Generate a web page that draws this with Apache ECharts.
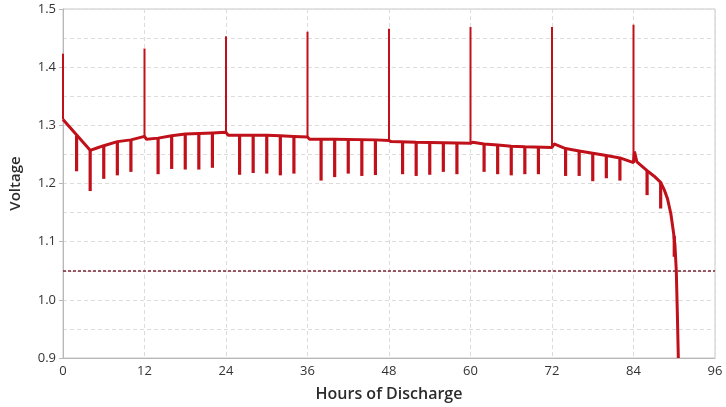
<!DOCTYPE html>
<html>
<head>
<meta charset="utf-8">
<script src="https://cdn.jsdelivr.net/npm/echarts@6/dist/echarts.min.js"></script>
<style>
html,body{margin:0;padding:0;background:#fff;}
#chart{width:726px;height:407px;}
</style>
</head>
<body>
<div id="chart"></div>
<script>
// Baseline voltage curve (hours, volts)
var baseHours = [0, 4, 5, 6, 8, 10, 12, 12.3, 14, 16, 18, 20, 22, 24, 24.3, 30, 32, 34, 36, 36.3, 40, 46, 48, 48.3, 52, 56, 60, 60.3, 62, 64, 66, 68, 72, 72.3, 74, 76, 78, 80, 82, 84, 84.15, 84.5, 86, 87, 88, 88.5, 89, 89.5, 89.9, 90.1, 90.3, 90.45, 90.6];
var baseVolts = [1.310, 1.257, 1.261, 1.265, 1.272, 1.275, 1.281, 1.276, 1.278, 1.282, 1.285, 1.286, 1.287, 1.288, 1.283, 1.283, 1.282, 1.281, 1.280, 1.276, 1.276, 1.275, 1.274, 1.272, 1.271, 1.270, 1.269, 1.271, 1.268, 1.266, 1.264, 1.263, 1.262, 1.268, 1.260, 1.256, 1.252, 1.248, 1.244, 1.236, 1.255, 1.237, 1.222, 1.213, 1.202, 1.190, 1.174, 1.148, 1.115, 1.095, 1.050, 0.980, 0.900];

// Load pulses (downward spikes): hour, voltage at start, voltage at tip
var downHours = [2, 4, 6, 8, 10, 14, 16, 18, 20, 22, 26, 28, 30, 32, 34, 38, 40, 42, 44, 46, 50, 52, 54, 56, 58, 62, 64, 66, 68, 70, 74, 76, 78, 80, 82, 86, 88, 90];
var downStart = [1.282, 1.257, 1.265, 1.272, 1.275, 1.278, 1.282, 1.285, 1.286, 1.287, 1.283, 1.283, 1.283, 1.282, 1.281, 1.276, 1.276, 1.275, 1.275, 1.275, 1.272, 1.271, 1.271, 1.270, 1.270, 1.268, 1.266, 1.264, 1.263, 1.262, 1.260, 1.256, 1.252, 1.248, 1.244, 1.222, 1.202, 1.110];
var downTip = [1.221, 1.187, 1.208, 1.214, 1.220, 1.216, 1.225, 1.224, 1.224, 1.227, 1.215, 1.218, 1.217, 1.214, 1.217, 1.205, 1.211, 1.217, 1.213, 1.2145, 1.216, 1.213, 1.215, 1.220, 1.216, 1.220, 1.216, 1.214, 1.216, 1.216, 1.213, 1.213, 1.204, 1.209, 1.205, 1.180, 1.157, 1.074];

// Rest/recovery pulses (upward spikes)
var upHours = [0, 12, 24, 36, 48, 60, 72, 84];
var upStart = [1.310, 1.281, 1.288, 1.280, 1.274, 1.269, 1.262, 1.236];
var upTip = [1.423, 1.432, 1.453, 1.461, 1.466, 1.469, 1.469, 1.473];

var xTicks = [0, 12, 24, 36, 48, 60, 72, 84, 96];
var cutoffVoltage = 1.05;

var RED = '#c0101a';
var baseData = baseHours.map(function (h, i) { return [h, baseVolts[i]]; });
var downData = downHours.map(function (h, i) { return [h, downStart[i], downTip[i]]; });
var upData = upHours.map(function (h, i) { return [h, upStart[i], upTip[i]]; });

function spikeRenderer(width) {
  return function (params, api) {
    var p1 = api.coord([api.value(0), api.value(1)]);
    var p2 = api.coord([api.value(0), api.value(2)]);
    return {
      type: 'line',
      shape: { x1: p1[0], y1: p1[1], x2: p2[0], y2: p2[1] },
      style: { stroke: RED, lineWidth: width, lineCap: 'butt' }
    };
  };
}

var font = '"Open Sans", "Noto Sans", sans-serif';
var chart = echarts.init(document.getElementById('chart'), null, { renderer: 'canvas' });
chart.setOption({
  animation: false,
  backgroundColor: '#fff',
  grid: { left: 60, right: 11, top: 9, bottom: 47, show: true, borderColor: '#c8c8c8', borderWidth: 1 },
  xAxis: {
    type: 'value', min: 0, max: 96, interval: 12,
    name: 'Hours of Discharge', nameLocation: 'middle', nameGap: 28,
    nameTextStyle: { fontFamily: font, fontSize: 16, fontWeight: 600, color: '#2b2b2b' },
    axisLine: { show: true, lineStyle: { color: '#b8b8b8' } },
    axisTick: { show: false },
    axisLabel: { fontFamily: font, fontSize: 13, color: '#333', margin: 7,
      formatter: function (v) { return xTicks.indexOf(v) >= 0 ? String(v) : ''; } },
    splitLine: { show: true, lineStyle: { color: '#dcdcdc', type: [4, 3] } }
  },
  yAxis: {
    type: 'value', min: 0.9, max: 1.5, interval: 0.1,
    name: 'Voltage', nameLocation: 'middle', nameGap: 40,
    nameTextStyle: { fontFamily: font, fontSize: 15, fontWeight: 600, color: '#2b2b2b' },
    axisLine: { show: true, lineStyle: { color: '#b8b8b8' } },
    axisTick: { show: true, length: 4, lineStyle: { color: '#b8b8b8' } },
    axisLabel: { fontFamily: font, fontSize: 13, color: '#333', margin: 7,
      formatter: function (v) { return v.toFixed(1); } },
    splitLine: { show: true, lineStyle: { color: '#dcdcdc', type: [4, 3] } },
    minorTick: { show: false, splitNumber: 2 },
    minorSplitLine: { show: true, lineStyle: { color: '#dcdcdc', type: [4, 3] } }
  },
  series: [
    {
      type: 'line', data: baseData, showSymbol: false, symbol: 'none',
      lineStyle: { color: RED, width: 3 }, clip: true, z: 3,
      markLine: {
        silent: true, symbol: 'none', label: { show: false },
        lineStyle: { color: '#7a2434', type: [3, 2], width: 1.5 },
        data: [{ yAxis: cutoffVoltage }]
      }
    },
    { type: 'custom', data: downData, renderItem: spikeRenderer(3.2), encode: { x: 0, y: [1, 2] }, clip: true, z: 4 },
    { type: 'custom', data: upData, renderItem: spikeRenderer(2), encode: { x: 0, y: [1, 2] }, clip: true, z: 4 }
  ]
});
</script>
</body>
</html>
